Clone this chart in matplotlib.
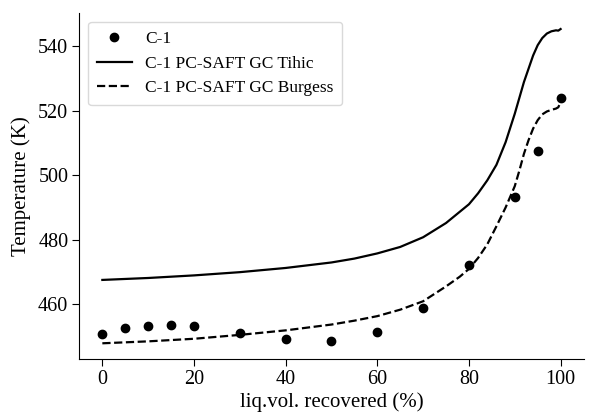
import matplotlib
matplotlib.use("Agg")
import matplotlib.pyplot as plt

plt.rcParams["font.family"] = ["Liberation Serif", "DejaVu Serif"]

# experimental C-1 distillation points
exp_x = [0, 5, 10, 15, 20, 30, 40, 50, 60, 70, 80, 90, 95, 100]
exp_t = [451.0, 452.6, 453.4, 453.7, 453.4, 451.3, 449.3, 448.8, 451.5, 458.8, 472.2, 493.4, 507.5, 524.0]

# PC-SAFT GC Tihic curve
tihic_x = [0, 10, 20, 30, 40, 50, 55, 60, 65, 70, 75, 80, 82, 84, 86, 88, 90, 92, 94, 95, 96, 97, 98, 99, 99.5, 100]
tihic_t = [467.6, 468.2, 469.0, 470.0, 471.3, 473.0, 474.2, 475.8, 477.8, 480.8, 485.2, 491.0, 494.4, 498.4, 503.2, 510.2, 519.0, 528.8, 537.0, 540.2, 542.4, 543.8, 544.5, 544.8, 544.7, 545.2]

# PC-SAFT GC Burgess curve
burgess_x = [0, 10, 20, 30, 40, 50, 55, 60, 65, 70, 75, 78, 80, 82, 84, 86, 88, 90, 91, 92, 93, 94, 95, 96, 97, 98, 99, 99.5, 100]
burgess_t = [448.0, 448.6, 449.4, 450.6, 452.0, 453.8, 455.0, 456.4, 458.4, 461.0, 465.6, 468.6, 471.0, 474.4, 478.6, 484.2, 490.0, 496.6, 501.4, 506.6, 510.8, 514.4, 517.0, 518.8, 519.7, 520.2, 520.6, 521.0, 522.6]

fig, ax = plt.subplots(figsize=(6.11, 4.16), dpi=100)
fig.subplots_adjust(left=0.13, right=0.955, bottom=0.137, top=0.968)

ax.plot(exp_x, exp_t, "o", color="black", markersize=6, label="C-1")
ax.plot(tihic_x, tihic_t, "-", color="black", linewidth=1.6, label="C-1 PC-SAFT GC Tihic")
ax.plot(burgess_x, burgess_t, "--", color="black", linewidth=1.6, label="C-1 PC-SAFT GC Burgess")

ax.set_xticks([0, 20, 40, 60, 80, 100])
ax.set_yticks([460, 480, 500, 520, 540])
ax.tick_params(labelsize=14.5, length=5, pad=3)
ax.set_xlabel("liq.vol. recovered (%)", fontsize=15, labelpad=2)
ax.set_ylabel("Temperature (K)", fontsize=15, labelpad=5)
ax.spines["top"].set_visible(False)
ax.spines["right"].set_visible(False)

ax.legend(loc="upper left", fontsize=12.5, handlelength=2.0, borderpad=0.5,
          labelspacing=0.5, edgecolor="#d0d0d0")

fig.savefig("out.png", dpi=100)
